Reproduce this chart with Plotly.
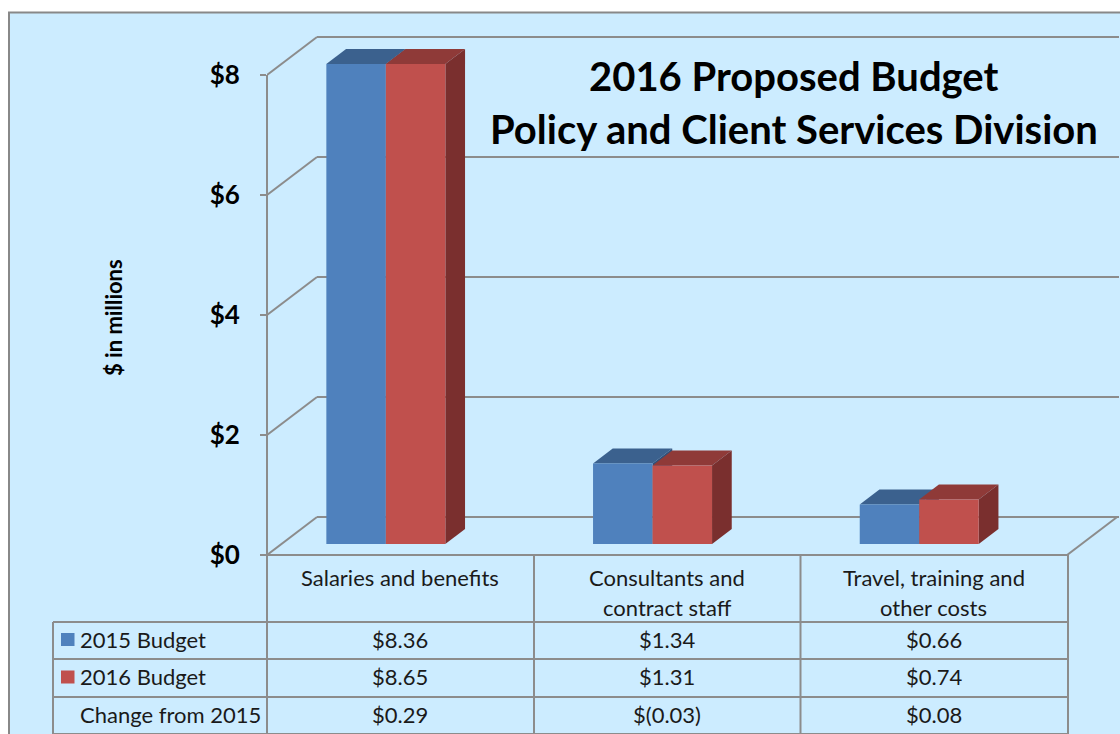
import plotly.graph_objects as go

categories = ["Salaries and benefits", "Consultants and\ncontract staff", "Travel, training and\nother costs"]
budget_2015 = [8.36, 1.34, 0.66]
budget_2016 = [8.65, 1.31, 0.74]
change_labels = ["$0.29", "$(0.03)", "$0.08"]
y_ticks = [0, 2, 4, 6, 8]
y_tick_labels = ["$0", "$2", "$4", "$6", "$8"]
row_names = ["2015 Budget", "2016 Budget", "Change from 2015"]

W, H = 1120, 734
L, R, T, B = 267, 1, 34, 179
PX_X, PX_Y = 266.7, 60.0      # pixels per category / per $M
AXIS_MAX = 8
FONT = "Lato"
GRID = "#8C8C8C"
BLUE, BLUE_TOP, BLUE_SIDE = "#4F81BD", "#3B618E", "#30507A"
RED, RED_TOP, RED_SIDE = "#C0504D", "#8F3A38", "#7A2F2E"

plot_w, plot_h = W - L - R, H - T - B
wall_dx, wall_dy = 50 / PX_X, 38 / PX_Y
bar_dx, bar_dy = 19.7 / PX_X, 15 / PX_Y
bar_base = 11 / PX_Y
bar_w = 59.5 / PX_X
bar_left = 0.2225


def xp(px):
    return (px - L) / plot_w


def yp(py):
    return (H - B - py) / plot_h


shapes = []
annotations = []


def seg(x0, y0, x1, y1, ref="paper", width=2, color=GRID, layer="below"):
    shapes.append(dict(type="line", xref=ref if ref == "paper" else "x", yref=ref if ref == "paper" else "y",
                       x0=x0, y0=y0, x1=x1, y1=y1, line=dict(color=color, width=width), layer=layer))


def poly(points, color):
    path = "M " + " L ".join(f"{x},{y}" for x, y in points) + " Z"
    shapes.append(dict(type="path", xref="x", yref="y", path=path, fillcolor=color,
                       line=dict(width=0), layer="below"))


# Panel background and frame
shapes.append(dict(type="rect", xref="paper", yref="paper", x0=xp(9), x1=xp(1125), y0=yp(12.5), y1=yp(740),
                   fillcolor="#CCECFF", line=dict(color="#888888", width=2), layer="below"))

# Walls: slanted and back gridlines from the axis ticks
x_end = plot_w / PX_X
for t in y_ticks:
    seg(0, t, wall_dx, t + wall_dy, ref="data")
    seg(wall_dx, t + wall_dy, x_end, t + wall_dy, ref="data")
# Floor right-hand edge
seg(3, 0, 3 + wall_dx, wall_dy, ref="data")

# 3D faces of the bars, computed from the values
x_cat = list(range(len(categories)))
for i in x_cat:
    h15 = min(budget_2015[i], AXIS_MAX)
    h16 = min(budget_2016[i], AXIS_MAX)
    x0 = i + bar_left
    t15, t16 = bar_base + h15, bar_base + h16
    x1 = x0 + bar_w
    x2 = x1 + bar_w
    poly([(x0, t15), (x1, t15), (x1 + bar_dx, t15 + bar_dy), (x0 + bar_dx, t15 + bar_dy)], BLUE_TOP)
    poly([(x1, bar_base), (x1 + bar_dx, bar_base + bar_dy), (x1 + bar_dx, t15 + bar_dy), (x1, t15)], BLUE_SIDE)
    poly([(x1, t16), (x2, t16), (x2 + bar_dx, t16 + bar_dy), (x1 + bar_dx, t16 + bar_dy)], RED_TOP)
    poly([(x2, bar_base), (x2 + bar_dx, bar_base + bar_dy), (x2 + bar_dx, t16 + bar_dy), (x2, t16)], RED_SIDE)

# Data table frame
col_x = [267, 534, 800.5, 1068]
row_y = [622, 659, 697, 734]
seg(xp(267), yp(555), xp(1068), yp(555))
for cx in col_x:
    seg(xp(cx), yp(555), xp(cx), yp(736))
seg(xp(267), yp(75), xp(267), yp(555))
seg(xp(53), yp(622), xp(53), yp(736))
for ry in row_y:
    seg(xp(53), yp(ry), xp(1068), yp(ry))

# Legend keys in the table
for color, top in ((BLUE, 633), (RED, 670.5)):
    shapes.append(dict(type="rect", xref="paper", yref="paper", x0=xp(61), x1=xp(74.5), y0=yp(top), y1=yp(top + 13),
                       fillcolor=color, line=dict(width=0), layer="below"))


def text(px, py, s, size=22, bold=False, anchor="center", angle=0, color="#1A1A1A", xdata=None):
    annotations.append(dict(
        xref="x" if xdata is not None else "paper", yref="paper",
        x=xdata if xdata is not None else xp(px), y=yp(py),
        text=f"<b>{s}</b>" if bold else s, showarrow=False, xanchor=anchor, yanchor="middle",
        textangle=angle, font=dict(family=FONT, size=size, color=color), align="center"))


# Category labels and table values
row_centers = [639, 676, 714]
fmt = lambda v: f"${v:.2f}"
for i, cat in enumerate(categories):
    lines = cat.split("\n")
    for j, line in enumerate(lines):
        text(0, 577 + 30 * j, line, xdata=i + 0.5)
    text(0, row_centers[0], fmt(budget_2015[i]), xdata=i + 0.5)
    text(0, row_centers[1], fmt(budget_2016[i]), xdata=i + 0.5)
    text(0, row_centers[2], change_labels[i], xdata=i + 0.5)
for name, cy in zip(row_names, row_centers):
    text(78, cy, name, anchor="left")

# Titles
text(794, 76, "2016 Proposed Budget", size=40, bold=True, color="black")
text(794, 129, "Policy and Client Services Division", size=40, bold=True, color="black")
text(113, 318, "$ in millions", size=22, bold=True, angle=-90, color="black")

fig = go.Figure()
for vals, col, name, off in ((budget_2015, BLUE, "2015 Budget", 0), (budget_2016, RED, "2016 Budget", 1)):
    fig.add_trace(go.Bar(
        x=[i + bar_left + bar_w * (off + 0.5) for i in x_cat],
        y=[min(v, AXIS_MAX) for v in vals],
        base=bar_base, width=bar_w, name=name, marker=dict(color=col, line=dict(width=0))))

fig.update_layout(
    width=W, height=H, autosize=False, barmode="overlay", showlegend=False,
    margin=dict(l=L, r=R, t=T, b=B, pad=0),
    paper_bgcolor="white", plot_bgcolor="rgba(0,0,0,0)",
    shapes=shapes, annotations=annotations,
    xaxis=dict(range=[0, x_end], showgrid=False, zeroline=False, showticklabels=False, ticks="", showline=False),
    yaxis=dict(range=[0, plot_h / PX_Y], tickvals=y_ticks, ticktext=y_tick_labels, showgrid=False, zeroline=False,
               showline=False, ticks="outside", ticklen=6, tickwidth=2, tickcolor=GRID, ticklabelstandoff=15,
               tickfont=dict(family=FONT, size=26, color="black", weight="bold")),
)
fig.write_html("out.html", config=dict(displayModeBar=False),
               post_script="document.body.style.margin='0';document.documentElement.style.overflow='hidden';")
